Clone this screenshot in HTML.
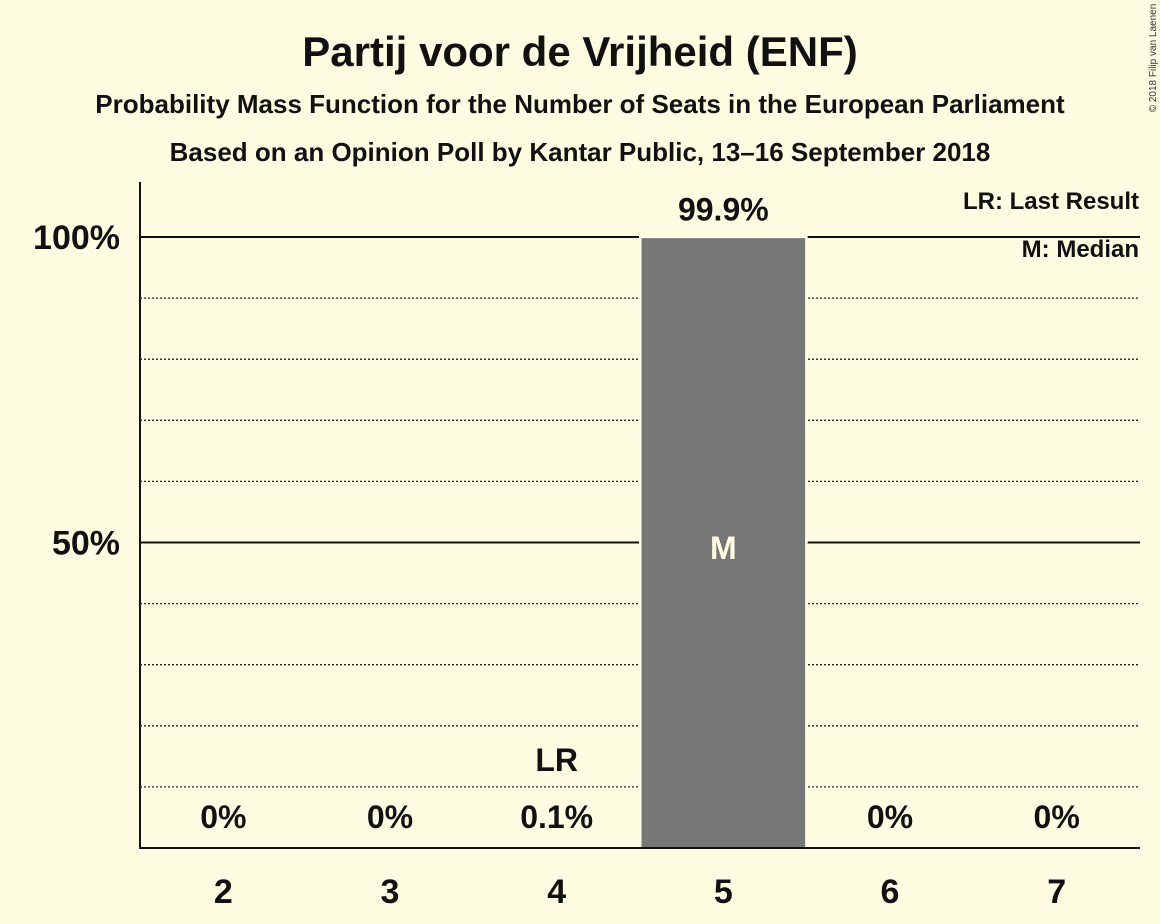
<!DOCTYPE html>
<html><head><meta charset="utf-8"><style>
body{margin:0;background:#fffde1;}
svg{display:block;font-family:"Liberation Sans",sans-serif;}
</style></head><body>
<svg id="chart" width="1160" height="924">
<rect width="1160" height="924" fill="#fffde1"/>
<text x="580" y="66" text-anchor="middle" font-size="42" font-weight="bold" fill="#111">Partij voor de Vrijheid (ENF)</text>
<text x="580" y="113" text-anchor="middle" font-size="26" font-weight="bold" fill="#111">Probability Mass Function for the Number of Seats in the European Parliament</text>
<text x="580" y="161" text-anchor="middle" font-size="26" font-weight="bold" fill="#111">Based on an Opinion Poll by Kantar Public, 13–16 September 2018</text>
<text transform="translate(1156,58) rotate(-90)" text-anchor="middle" font-size="10" fill="#333">© 2018 Filip van Laenen</text>
<text x="1139" y="209" text-anchor="end" font-size="24" font-weight="bold" fill="#111">LR: Last Result</text>
<text x="1139" y="257" text-anchor="end" font-size="24" font-weight="bold" fill="#111">M: Median</text>
<g id="plot"></g>
</svg>
<script>
const categories=["2","3","4","5","6","7"];
const values=[0,0,0.1,99.9,0,0];
const valueLabels=["0%","0%","0.1%","99.9%","0%","0%"];
const yTicks=[50,100];
const yTickLabels=["50%","100%"];
const gridVals=[10,20,30,40,60,70,80,90];
const lastResultIndex=2, medianIndex=3;
const ns="http://www.w3.org/2000/svg";
const g=document.getElementById('plot');
const x0=140,x1=1140,yBase=848,yTop=237;
const y=v=>yBase-(yBase-yTop)*v/100;
const step=(x1-x0)/categories.length;
const xc=i=>x0+step*(i+0.5);
function mk(t,a){const e=document.createElementNS(ns,t);for(const k in a)e.setAttribute(k,a[k]);g.appendChild(e);return e;}
gridVals.forEach(v=>{const l=mk('line',{x1:x0,x2:x1,y1:y(v),y2:y(v),stroke:'#222','stroke-width':1.3,'stroke-dasharray':'2,2'});

});
yTicks.forEach((v,i)=>{const l=mk('line',{x1:x0,x2:x1,y1:y(v),y2:y(v),stroke:'#111','stroke-width':2});


const t=mk('text',{x:x0-20,y:y(v)+12,'text-anchor':'end','font-size':34,'font-weight':'bold',fill:'#111'});t.textContent=yTickLabels[i];

});
values.forEach((v,i)=>{const bw=step-2;
if(v>=1){const bg=mk('rect',{x:xc(i)-bw/2-2,y:y(Math.min(v,100))-2,width:bw+4,height:yBase-y(v)+2,fill:'#fffde1'});

}
const r=mk('rect',{x:xc(i)-bw/2,y:y(v),width:bw,height:yBase-y(v),fill:'#777',stroke:'#fff','stroke-width':v>0.5?1:0});


const inside=v>20;
const ly=inside?y(v)-17:yBase-20;
const t=mk('text',{x:xc(i),y:ly,'text-anchor':'middle','font-size':32,'font-weight':'bold',fill:'#111'});t.textContent=valueLabels[i];


const xl=mk('text',{x:xc(i),y:903,'text-anchor':'middle','font-size':34,'font-weight':'bold',fill:'#111'});xl.textContent=categories[i];

});
const lr=mk('text',{x:xc(lastResultIndex),y:771,'text-anchor':'middle','font-size':32,'font-weight':'bold',fill:'#111'});lr.textContent='LR';


const m=mk('text',{x:xc(medianIndex),y:y(values[medianIndex]/2)+16,'text-anchor':'middle','font-size':32,'font-weight':'bold',fill:'#fffde1'});m.textContent='M';


const ax=mk('line',{x1:x0,x2:x0,y1:182,y2:yBase+1,stroke:'#111','stroke-width':2});


const bx=mk('line',{x1:x0-1,x2:x1,y1:yBase,y2:yBase,stroke:'#111','stroke-width':2});


</script>
</body></html>
